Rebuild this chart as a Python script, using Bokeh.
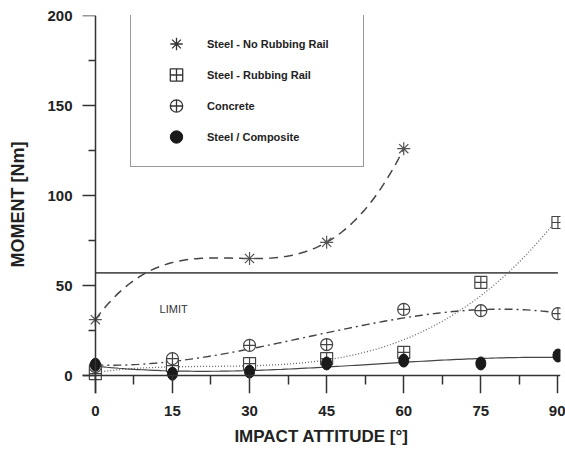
import numpy as np
from bokeh.plotting import figure
from bokeh.models import (ColumnDataSource, FixedTicker, Legend, LegendItem, Label, LinearAxis, Range1d)
from bokeh.embed import file_html
from bokeh.resources import INLINE

# ---- data ----
angle_nrr = [0, 15, 30, 45, 60]
steel_no_rubbing = [31, None, 65, 74, 126]
angles = [0, 15, 30, 45, 60, 75, 90]
steel_rubbing = [1, 5.5, 6.6, 9.4, 12.8, 51.7, 85]
concrete = [5, 9.4, 16.7, 17.2, 36.7, 36, 34.4]
steel_composite = [6, 1, 2.2, 6.7, 8.3, 6.7, 11.1]
limit_value = 57
x_ticks = [0, 15, 30, 45, 60, 75, 90]
x_minor = [7.5, 22.5, 37.5, 52.5, 67.5, 82.5]
y_ticks = [0, 50, 100, 150, 200]
y_minor = [25, 75, 125, 175]
labels = ["Steel - No Rubbing Rail", "Steel - Rubbing Rail", "Concrete", "Steel / Composite"]

INK = "#333333"
TXT = "#222222"
FONT = "Liberation Sans"
NAN = float("nan")

p = figure(width=565, height=454, output_backend="svg", toolbar_location=None,
           x_range=Range1d(-2.5, 90.5), y_range=Range1d(-10, 200),
           min_border_left=82, min_border_right=5, min_border_top=15, min_border_bottom=61)
p.outline_line_color = None
p.xgrid.visible = False
p.ygrid.visible = False
p.background_fill_color = "white"

# default axes: only tick labels and titles
for ax in (p.xaxis[0], p.yaxis[0]):
    ax.axis_line_color = None
    ax.major_tick_line_color = None
    ax.minor_tick_line_color = None
    ax.major_tick_in = 0
    ax.major_tick_out = 0
    ax.minor_tick_in = 0
    ax.minor_tick_out = 0
    ax.major_label_text_font = FONT
    ax.major_label_text_font_style = "bold"
    ax.major_label_text_font_size = "15px"
    ax.major_label_text_color = TXT
    ax.axis_label_text_font = FONT
    ax.axis_label_text_font_style = "bold"
    ax.axis_label_text_font_size = "17px"
    ax.axis_label_text_color = TXT
p.xaxis.ticker = FixedTicker(ticks=x_ticks)
p.yaxis.ticker = FixedTicker(ticks=y_ticks)
p.xaxis.major_label_standoff = 12
p.yaxis.major_label_standoff = 10
p.xaxis.axis_label = "IMPACT ATTITUDE [°]"
p.yaxis.axis_label = "MOMENT [Nm]"
p.yaxis.axis_label_text_font_size = "18px"
p.xaxis.axis_label_standoff = 8
p.yaxis.axis_label_standoff = 16

# axis lines and ticks at the data origin
def origin_axis(ticks, minor, out_major, out_minor):
    a = LinearAxis(fixed_location=0, ticker=FixedTicker(ticks=ticks, minor_ticks=minor))
    a.axis_line_color = INK
    a.axis_line_width = 1.5
    a.major_tick_line_color = INK
    a.major_tick_line_width = 1.5
    a.minor_tick_line_color = INK
    a.minor_tick_line_width = 1.5
    a.major_tick_in = 0
    a.minor_tick_in = 0
    a.major_tick_out = out_major
    a.minor_tick_out = out_minor
    a.major_label_text_color = None
    a.major_label_text_font_size = "1px"
    a.major_label_standoff = 0
    return a

p.add_layout(origin_axis(x_ticks, x_minor, 18, 9), "below")
p.add_layout(origin_axis(y_ticks, y_minor, 15, 7), "left")

# limit line
p.line([x_ticks[0], x_ticks[-1]], [limit_value, limit_value], line_color="#555555", line_width=1.6)
p.add_layout(Label(x=12.5, y=37, text="LIMIT", text_font=FONT, text_font_size="11px",
                   text_color="#333333", text_baseline="middle"))

# fitted curves (cubic fits through the measured points)
def fit_curve(xs, ys, x0, x1):
    pts = [(a, b) for a, b in zip(xs, ys) if b is not None]
    xa = np.array([a for a, _ in pts], float)
    ya = np.array([b for _, b in pts], float)
    c = np.polyfit(xa, ya, 3)
    xx = np.linspace(x0, x1, 120)
    return xx, np.polyval(c, xx)

xx, yy = fit_curve(angle_nrr, steel_no_rubbing, 0, 60)
p.line(xx, yy, line_color="#444444", line_width=1.5, line_dash="9 6")
xx, yy = fit_curve(angles, steel_rubbing, 0, 90)
p.line(xx, yy, line_color="#666666", line_width=1.3, line_dash="1 2")
xx, yy = fit_curve(angles, concrete, 0, 90)
p.line(xx, yy, line_color="#444444", line_width=1.4, line_dash="8 4 2 4")
xx, yy = fit_curve(angles, steel_composite, 0, 90)
p.line(xx, yy, line_color="#444444", line_width=1.2)

# markers
src_nrr = ColumnDataSource(dict(x=[a for a, b in zip(angle_nrr, steel_no_rubbing) if b is not None],
                                y=[b for b in steel_no_rubbing if b is not None]))
p.scatter("x", "y", source=src_nrr, marker="asterisk", size=13, line_color="#555555", line_width=1.2)
p.scatter(angles, steel_rubbing, marker="square_cross", size=12, line_color="#444444",
          fill_color="white", line_width=1.2)
p.scatter(angles, concrete, marker="circle_cross", size=12, line_color="#444444",
          fill_color="white", line_width=1.2)
p.ellipse(angles, steel_composite, width=10, height=13, width_units="screen", height_units="screen",
          fill_color="#1a1a1a", line_color="#1a1a1a")

# legend glyphs; NaN positions so they draw only in the key
def key_src():
    return ColumnDataSource(dict(x=[NAN], y=[NAN]))

r1 = p.scatter("x", "y", source=key_src(), marker="asterisk", size=16, line_color="#333333", line_width=1.3)
r2 = p.scatter("x", "y", source=key_src(), marker="square_cross", size=16, line_color="#333333",
               fill_color="white", line_width=1.3)
r3 = p.scatter("x", "y", source=key_src(), marker="circle_cross", size=16, line_color="#333333",
               fill_color="white", line_width=1.3)
r4 = p.scatter("x", "y", source=key_src(), marker="circle", size=16,
               fill_color="#1a1a1a", line_color="#1a1a1a")

legend = Legend(items=[LegendItem(label=labels[0], renderers=[r1]),
                       LegendItem(label=labels[1], renderers=[r2]),
                       LegendItem(label=labels[2], renderers=[r3]),
                       LegendItem(label=labels[3], renderers=[r4])],
                location=(48, 226), padding=14, margin=0, spacing=0,
                glyph_width=62, glyph_height=31, label_standoff=0, label_width=142,
                label_text_font=FONT, label_text_font_style="bold", label_text_font_size="11px",
                label_text_color=TXT, border_line_color="#333333", border_line_width=1.5,
                background_fill_color="white", background_fill_alpha=1.0)
p.add_layout(legend)

open("out.html", "w").write(file_html(p, INLINE))
